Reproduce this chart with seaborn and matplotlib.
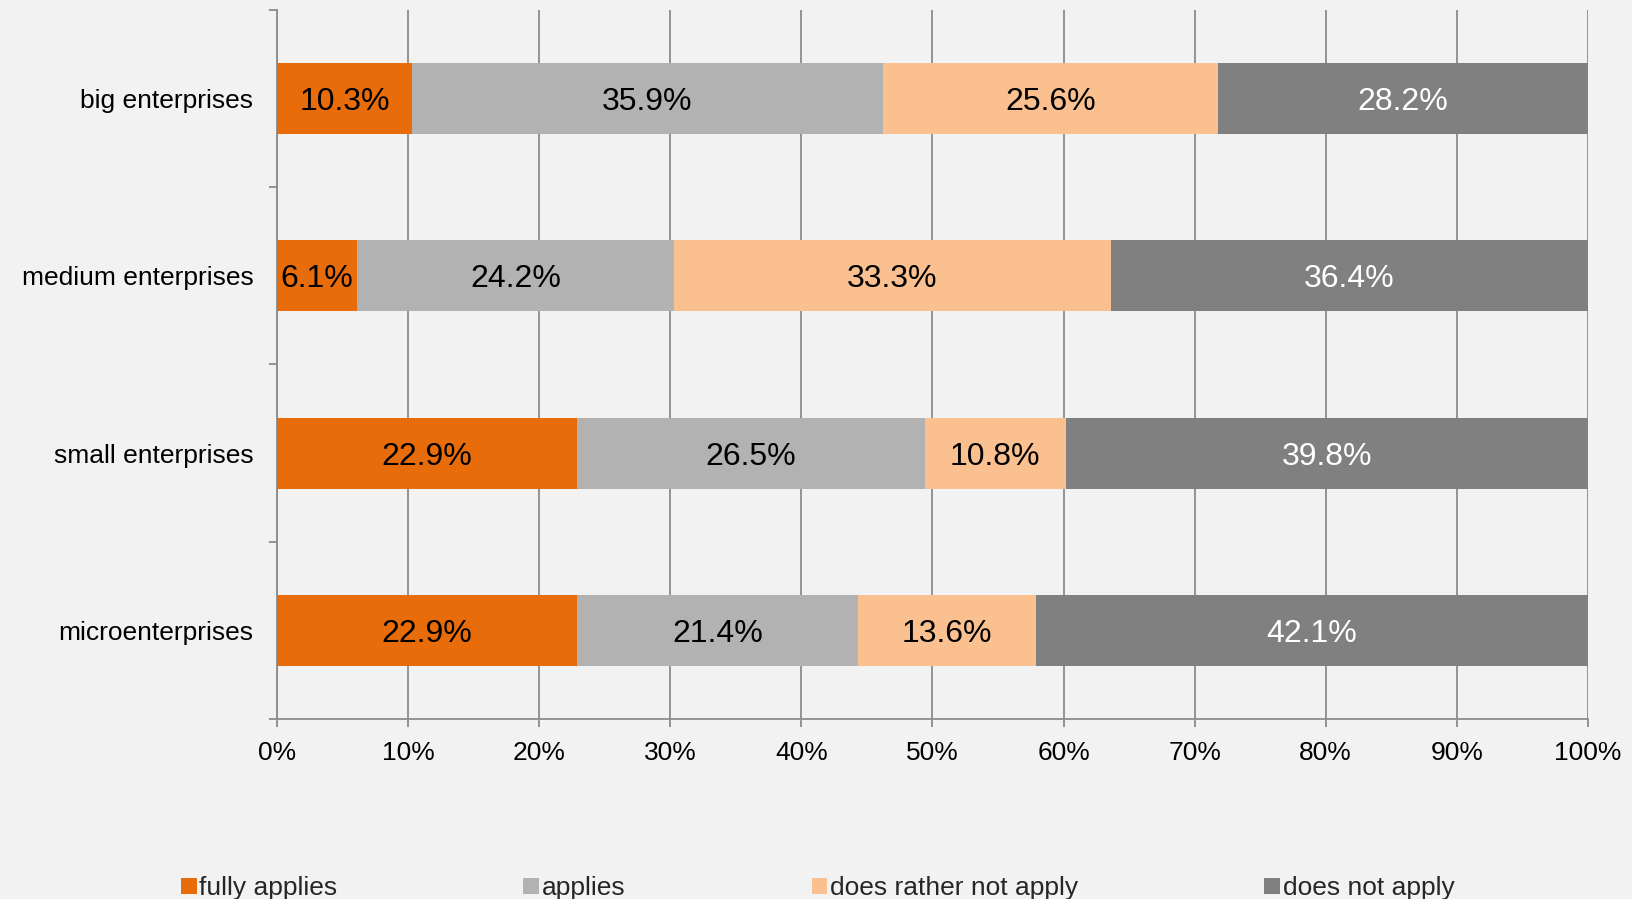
import numpy as np
import pandas as pd
import matplotlib
matplotlib.use("Agg")
import matplotlib.pyplot as plt
import seaborn as sns
from matplotlib.ticker import FixedLocator, PercentFormatter

# --- data ---
categorias = ["big enterprises", "medium enterprises", "small enterprises", "microenterprises"]
series = ["fully applies", "applies", "does rather not apply", "does not apply"]
fully_applies = [10.3, 6.1, 22.9, 22.9]
applies = [35.9, 24.2, 26.5, 21.4]
rather_not = [25.6, 33.3, 10.8, 13.6]
not_apply = [28.2, 36.4, 39.8, 42.1]

colores = ["#E96C0A", "#B2B2B2", "#FAC090", "#808080"]
color_texto = ["black", "black", "black", "white"]

df = pd.DataFrame({"cat": categorias, series[0]: fully_applies, series[1]: applies,
                   series[2]: rather_not, series[3]: not_apply})
acum = df[series].cumsum(axis=1)

sns.set_theme(style="white")
plt.rcParams["font.family"] = ["Liberation Sans", "DejaVu Sans"]

fig = plt.figure(figsize=(16.32, 8.99), dpi=100, facecolor="#F2F2F2")
ax = fig.add_axes([0.1697, 0.2002, 0.8033, 0.7887])
ax.set_facecolor("#F2F2F2")

# apilado: se dibujan los acumulados de mayor a menor
for i in range(len(series) - 1, -1, -1):
    sns.barplot(x=acum[series[i]], y=df["cat"], orient="h", color=colores[i],
                width=0.4, saturation=1, ax=ax, zorder=3, label=series[i],
                linewidth=0, edgecolor="none")

# etiquetas de valores
for j in range(len(categorias)):
    izq = 0
    for i, s in enumerate(series):
        v = df[s][j]
        ax.text(izq + v / 2, j, f"{v:.1f}%", ha="center", va="center_baseline",
                fontsize=23, color=color_texto[i], zorder=4)
        izq += v

ax.set_xlim(0, 100)
ax.set_ylim(3.5, -0.5)
ax.xaxis.set_major_locator(FixedLocator(np.arange(0, 101, 10)))
ax.xaxis.set_major_formatter(PercentFormatter(decimals=0))
ax.grid(axis="x", color="#8C8C8C", linewidth=1.3, zorder=0)
ax.set_xlabel("")
ax.set_ylabel("")

for s in ["top", "right"]:
    ax.spines[s].set_visible(False)
for s in ["left", "bottom"]:
    ax.spines[s].set_color("#8C8C8C")
    ax.spines[s].set_linewidth(1.3)

ax.tick_params(axis="x", direction="out", length=6, width=1.3, color="#8C8C8C",
               labelsize=19, pad=10, labelcolor="black", bottom=True)
ax.tick_params(axis="y", which="major", length=0, labelsize=19, pad=17, labelcolor="black")
ax.yaxis.set_minor_locator(FixedLocator([-0.5, 0.5, 1.5, 2.5, 3.5]))
ax.tick_params(axis="y", which="minor", direction="out", length=6, width=1.3,
               color="#8C8C8C", left=True)

# leyenda
handles, labels = ax.get_legend_handles_labels()
orden = [labels.index(s) for s in series]
if ax.get_legend():
    ax.get_legend().remove()
fig.legend([handles[k] for k in orden], [labels[k] for k in orden], ncol=4,
           loc="lower center", bbox_to_anchor=(0.501, -0.028), frameon=False,
           fontsize=19, handlelength=0.6, handleheight=0.6, handletextpad=0.1,
           columnspacing=7.05)

fig.savefig("out.png", dpi=100, facecolor=fig.get_facecolor())
